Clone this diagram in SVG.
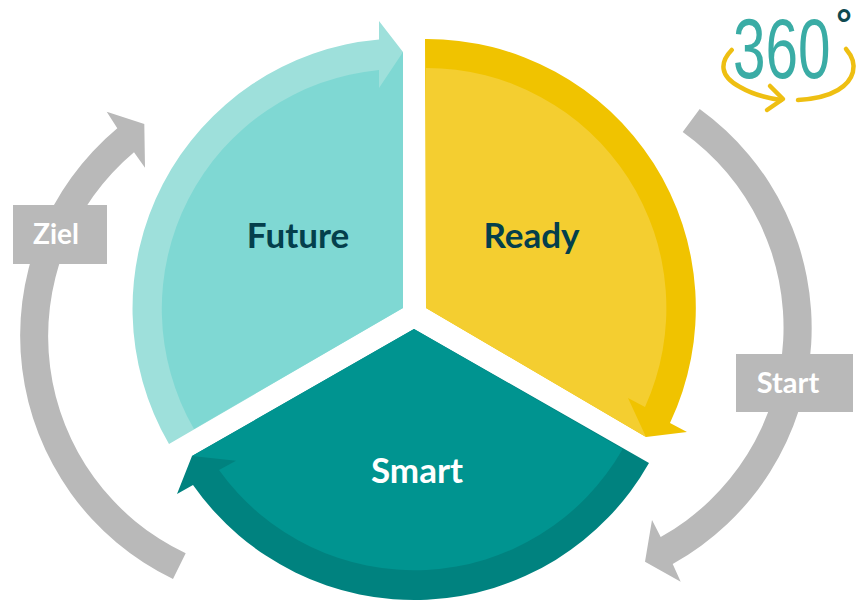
<svg xmlns="http://www.w3.org/2000/svg" width="859" height="601" viewBox="0 0 859 601">
<style>
.lbl{font-family:Lato,"Open Sans",sans-serif;font-weight:700;text-anchor:middle}
.grey{fill:#b9b9b9}
.sw{fill:none;stroke:#eebf12;stroke-width:4.5;stroke-linecap:round;stroke-linejoin:round}
.dg{font-family:"Liberation Sans",Arial,sans-serif;font-weight:400;fill:#3aaca5}
</style>
<rect width="859" height="601" fill="#fff"/>
<g id="connectors">
<path id="arc-left" class="grey" d="M173,579 A270,270 0 0 1 117.3,128.3 L106.7,111.7 L144.3,124 L145,167.7 L134,152.3 A240,240 0 0 0 185.7,553.3 Z"/>
<path id="arc-right" class="grey" d="M699.7,109 A270,270 0 0 1 672.7,564 L680.7,581.7 L645,561.7 L652,520 L660.7,537 A240,240 0 0 0 682.7,132 Z"/>
</g>
<g id="node-future">
<path fill="#9ee0db" d="M403,308 L169,444 A270,270 0 0 1 379,39.5 L379,21 L403,52 Z"/>
<path fill="#7fd8d3" d="M403,308 L194,429 A240,240 0 0 1 379,70 L379,88 L403,52 Z"/>
<text class="lbl" x="298" y="248" font-size="35" fill="#043f4c">Future</text>
</g>
<g id="node-ready">
<path fill="#f0c300" d="M426,308 L425,39 A269,269 0 0 1 670,423 L687,432 L646,437 Z"/>
<path fill="#f4ce30" d="M426,308 L426,68 A240,240 0 0 1 645,407 L628,398 L646,437 Z"/>
<text class="lbl" x="531.5" y="248" font-size="35" fill="#043f4c">Ready</text>
</g>
<g id="node-smart">
<path fill="#00827f" d="M414,329 L649,463 A270,270 0 0 1 193,485 L177,494 L192,456 Z"/>
<path fill="#009490" d="M414,329 L622.7,449 A240,240 0 0 1 219,470 L236,460.7 L192,456 Z"/>
<text class="lbl" x="417" y="483" font-size="35" fill="#fff">Smart</text>
</g>
<g id="node-ziel">
<rect class="grey" x="13" y="205" width="94" height="59"/>
<text class="lbl" x="56" y="244" font-size="28" fill="#fff">Ziel</text>
</g>
<g id="node-start">
<rect class="grey" x="736" y="354" width="117" height="58"/>
<text class="lbl" x="788" y="393" font-size="29" fill="#fff">Start</text>
</g>
<g id="logo">
<text class="dg" font-size="86" transform="translate(733 78) scale(.68 1)">360</text>
<text x="836" y="38" font-family="'Liberation Sans',sans-serif" font-weight="700" font-size="40" fill="#0f4a50">°</text>
<path class="sw" d="M731.7,50 C720,62 719,76 740,87 C752,94 766,98 781,100"/>
<path class="sw" d="M770,86 L783,99 L767,110"/>
<path class="sw" d="M798,100 C815,99 828,96 838,90 C853,81 860,65 846,49"/>
</g>
</svg>
